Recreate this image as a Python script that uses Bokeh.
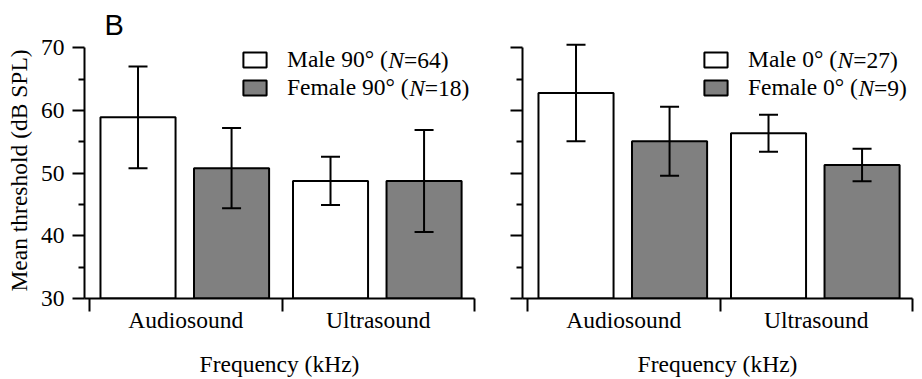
from bokeh.plotting import figure
from bokeh.layouts import row
from bokeh.models import (Range1d, FixedTicker, Legend, LegendItem, Label,
                          CustomJSTickFormatter)
from bokeh.embed import file_html
from bokeh.resources import INLINE

# ---- data -------------------------------------------------------------
groups = ["Audiosound", "Ultrasound"]

# side speaker (90°)
male90_mean = [58.9, 48.75]
male90_sd = [8.1, 3.85]
female90_mean = [50.8, 48.75]
female90_sd = [6.4, 8.15]
n90 = [64, 18]

# frontal speaker (0°)
male0_mean = [62.8, 56.35]
male0_sd = [7.7, 2.95]
female0_mean = [55.1, 51.3]
female0_sd = [5.5, 2.6]
n0 = [27, 9]

y_ticks = [30, 40, 50, 60, 70]
y_minor = [35, 45, 55, 65]

# ---- styling / layout constants --------------------------------------
SERIF = "Liberation Serif"
FS = 23.5                    # px
GRAY = "#808080"
H = 379
TOP, BOTTOM = 42, 80         # frame borders (px)
FRAME_W = 390
PX_Y = 6.2925                # px per dB
X0, X1 = -0.026, 2.0
Y0 = 30
Y1 = Y0 + (H - TOP - BOTTOM) / PX_Y
PX_X = FRAME_W / (X1 - X0)
OFF_M, OFF_F = 0.252, 0.738  # bar offsets inside each group
BAR_W = 0.39
LEG_Y = 197                  # legend bottom above frame bottom (px)
ROW_H = 28
GLYPH_W, GLYPH_H = 29, 19    # legend swatch area (drawn inset by 10 %)
STANDOFF = 18

# Times/Liberation Serif advance widths (em)
ADV = {"M": .889, "a": .444, "l": .278, "e": .444, " ": .25, "9": .5,
       "0": .5, "°": .4, "(": .333, "F": .556, "m": .778}
ADV_N_ITALIC = .667


def text_width(s):
    return sum(ADV[c] for c in s) * FS


def panel(width, left, m_mean, m_sd, f_mean, f_sd, angle, counts,
          legend_x, ylabel=None, tag=None):
    p = figure(width=width, height=H, x_range=Range1d(X0, X1),
               y_range=Range1d(Y0, Y1), output_backend="svg",
               toolbar_location=None, min_border_left=left,
               min_border_right=width - left - FRAME_W,
               min_border_top=TOP, min_border_bottom=BOTTOM)
    p.xgrid.visible = False
    p.ygrid.visible = False
    p.outline_line_color = None
    p.background_fill_color = "white"

    if tag:
        p.title.text = tag
        p.title.text_font = "Liberation Sans"
        p.title.text_font_size = "29px"
        p.title.text_font_style = "normal"
        p.title.text_color = "black"
        p.title.align = "left"
        p.title.offset = 20
        p.title.standoff = 3

    xm = [i + OFF_M for i in range(len(groups))]
    xf = [i + OFF_F for i in range(len(groups))]
    rm = p.vbar(x=xm, top=m_mean, bottom=Y0, width=BAR_W, fill_color="white",
                line_color="black", line_width=2)
    rf = p.vbar(x=xf, top=f_mean, bottom=Y0, width=BAR_W, fill_color=GRAY,
                line_color="black", line_width=2)

    # error bars (±SD) with flat caps
    for xs, mean, sd in ((xm, m_mean, m_sd), (xf, f_mean, f_sd)):
        lo = [a - b for a, b in zip(mean, sd)]
        hi = [a + b for a, b in zip(mean, sd)]
        p.segment(x0=xs, y0=lo, x1=xs, y1=hi, line_color="black", line_width=2)
        p.scatter(x=xs + xs, y=lo + hi, marker="dash", size=19,
                  line_color="black", line_width=2)

    # y axis
    ya = p.yaxis[0]
    ya.ticker = FixedTicker(ticks=y_ticks, minor_ticks=y_minor)
    ya.bounds = (y_ticks[0], y_ticks[-1])
    ya.axis_line_width = 2
    ya.axis_line_color = "black"
    ya.major_tick_line_width = 2
    ya.minor_tick_line_width = 2
    ya.major_tick_line_color = "black"
    ya.minor_tick_line_color = "black"
    ya.major_tick_in = 0
    ya.major_tick_out = 12
    ya.minor_tick_in = 0
    ya.minor_tick_out = 6
    ya.major_label_text_font = SERIF
    ya.major_label_text_font_size = f"{FS}px"
    ya.major_label_text_color = "black"
    ya.major_label_standoff = 8
    if ylabel:
        ya.axis_label = ylabel
        ya.axis_label_text_font = SERIF
        ya.axis_label_text_font_size = f"{FS}px"
        ya.axis_label_text_font_style = "normal"
        ya.axis_label_text_color = "black"
        ya.axis_label_standoff = 6
    else:
        ya.formatter = CustomJSTickFormatter(code="return ''")

    # x axis: group names centred, tick marks at group boundaries
    xa = p.xaxis[0]
    xa.ticker = FixedTicker(ticks=[i + 0.5 for i in range(len(groups))],
                            minor_ticks=list(range(len(groups) + 1)))
    xa.formatter = CustomJSTickFormatter(args=dict(names=groups),
                                         code="return names[Math.floor(tick)]")
    xa.axis_line_width = 2
    xa.axis_line_color = "black"
    xa.major_tick_in = 0
    xa.major_tick_out = 0
    xa.minor_tick_in = 0
    xa.minor_tick_out = 13
    xa.minor_tick_line_width = 2
    xa.minor_tick_line_color = "black"
    xa.major_label_text_font = SERIF
    xa.major_label_text_font_size = f"{FS}px"
    xa.major_label_text_color = "black"
    xa.major_label_standoff = -5
    xa.axis_label = "Frequency (kHz)"
    xa.axis_label_text_font = SERIF
    xa.axis_label_text_font_size = f"{FS}px"
    xa.axis_label_text_font_style = "normal"
    xa.axis_label_text_color = "black"
    xa.axis_label_standoff = 15

    # legend: swatch + text up to "(", then italic N and the count
    prefixes = [f"Male {angle}° (", f"Female {angle}° ("]
    legend = Legend(items=[LegendItem(label=prefixes[0], renderers=[rm]),
                           LegendItem(label=prefixes[1], renderers=[rf])],
                    location=(legend_x, LEG_Y), orientation="vertical",
                    padding=0, spacing=0, margin=0,
                    glyph_width=GLYPH_W, glyph_height=GLYPH_H,
                    label_height=ROW_H, label_standoff=STANDOFF,
                    label_text_font=SERIF, label_text_font_size=f"{FS}px",
                    label_text_color="black",
                    border_line_color=None, background_fill_alpha=0)
    p.add_layout(legend)

    def to_x(px):
        return X0 + (px - left) / PX_X

    def to_y(py):
        return Y0 + (H - BOTTOM - py) / PX_Y

    text_left = left + legend_x + GLYPH_W + STANDOFF
    legend_bottom = H - BOTTOM - LEG_Y
    for k, (pre, n) in enumerate(zip(prefixes, counts)):
        yc = legend_bottom - ROW_H * (2 - k) + ROW_H / 2
        xn = text_left + text_width(pre)
        p.add_layout(Label(x=to_x(xn), y=to_y(yc), text="N",
                           text_font=SERIF, text_font_size=f"{FS}px",
                           text_font_style="italic", text_baseline="middle",
                           text_color="black"))
        p.add_layout(Label(x=to_x(xn + ADV_N_ITALIC * FS), y=to_y(yc),
                           text=f"={n})", text_font=SERIF,
                           text_font_size=f"{FS}px", text_baseline="middle",
                           text_color="black"))
    return p


p1 = panel(480, 84, male90_mean, male90_sd, female90_mean, female90_sd,
           90, n90, legend_x=156, ylabel="Mean threshold (dB SPL)", tag="B")
p2 = panel(442, 42, male0_mean, male0_sd, female0_mean, female0_sd,
           0, n0, legend_x=179)

layout = row(p1, p2)
with open("out.html", "w") as f:
    f.write(file_html(layout, INLINE))
